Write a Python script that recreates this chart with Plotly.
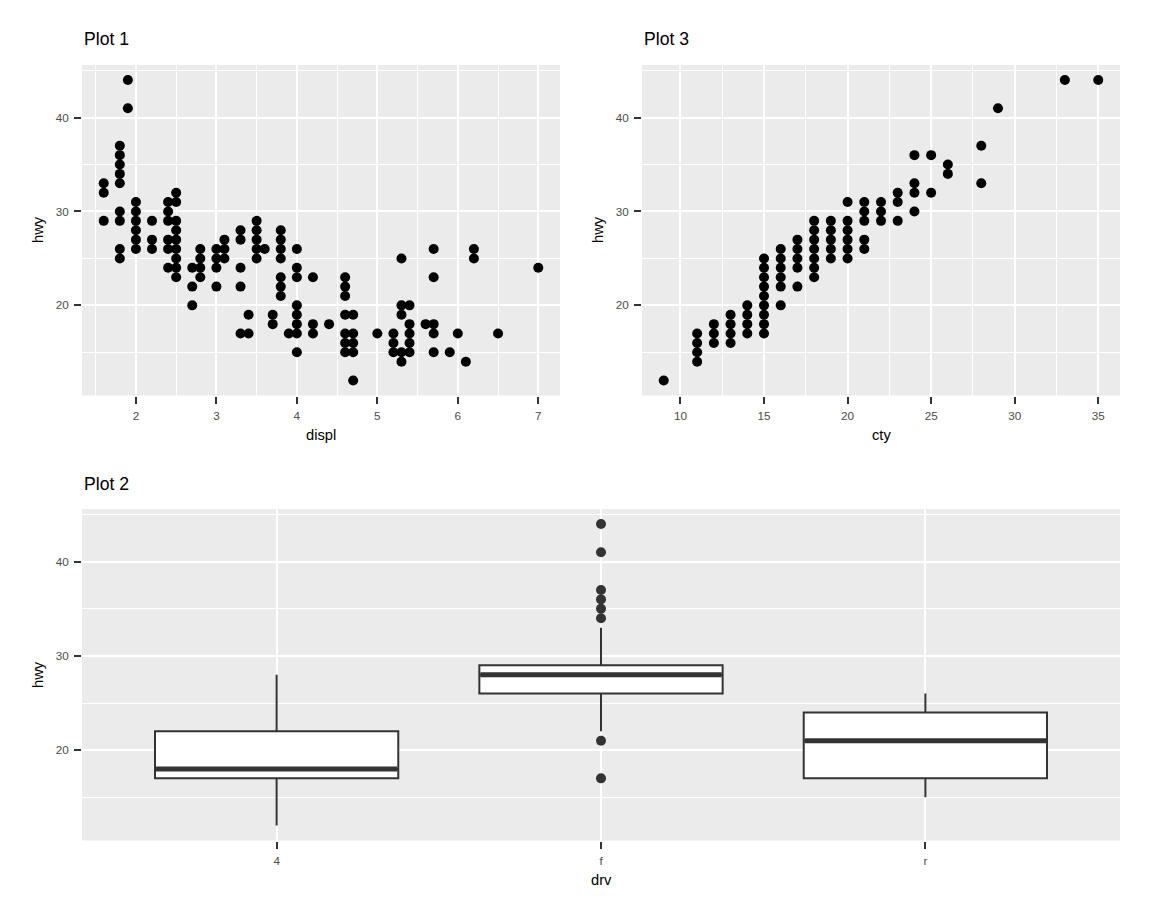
import plotly.graph_objects as go

# ---------------- data (mpg, unique points) ----------------
displ = [1.6, 1.6, 1.6,
         1.8, 1.8, 1.8, 1.8, 1.8, 1.8, 1.8, 1.8, 1.8,
         1.9, 1.9,
         2.0, 2.0, 2.0, 2.0, 2.0, 2.0,
         2.2, 2.2, 2.2,
         2.4, 2.4, 2.4, 2.4, 2.4, 2.4,
         2.5, 2.5, 2.5, 2.5, 2.5, 2.5, 2.5, 2.5, 2.5,
         2.7, 2.7, 2.7,
         2.8, 2.8, 2.8, 2.8,
         3.0, 3.0, 3.0, 3.0,
         3.1, 3.1, 3.1,
         3.3, 3.3, 3.3, 3.3, 3.3,
         3.4, 3.4,
         3.5, 3.5, 3.5, 3.5, 3.5,
         3.6,
         3.7, 3.7,
         3.8, 3.8, 3.8, 3.8, 3.8, 3.8, 3.8,
         3.9,
         4.0, 4.0, 4.0, 4.0, 4.0, 4.0, 4.0, 4.0,
         4.2, 4.2, 4.2,
         4.4,
         4.6, 4.6, 4.6, 4.6, 4.6, 4.6, 4.6,
         4.7, 4.7, 4.7, 4.7, 4.7,
         5.0,
         5.2, 5.2, 5.2,
         5.3, 5.3, 5.3, 5.3, 5.3,
         5.4, 5.4, 5.4, 5.4, 5.4,
         5.6,
         5.7, 5.7, 5.7, 5.7, 5.7,
         5.9, 6.0, 6.1,
         6.2, 6.2,
         6.5, 7.0]
hwy_displ = [33, 32, 29,
             37, 36, 35, 34, 33, 30, 29, 26, 25,
             44, 41,
             31, 30, 29, 28, 27, 26,
             29, 27, 26,
             31, 30, 29, 27, 26, 24,
             32, 31, 29, 28, 27, 26, 25, 24, 23,
             24, 22, 20,
             26, 25, 24, 23,
             26, 25, 24, 22,
             27, 26, 25,
             28, 27, 24, 22, 17,
             19, 17,
             29, 28, 27, 26, 25,
             26,
             19, 18,
             28, 27, 26, 25, 23, 22, 21,
             17,
             26, 24, 23, 20, 19, 18, 17, 15,
             23, 18, 17,
             18,
             23, 22, 21, 19, 17, 16, 15,
             19, 17, 16, 15, 12,
             17,
             17, 16, 15,
             25, 20, 19, 15, 14,
             20, 18, 17, 16, 15,
             18,
             26, 23, 18, 17, 15,
             15, 17, 14,
             26, 25,
             17, 24]

cty = [9,
       11, 11, 11, 11,
       12, 12, 12,
       13, 13, 13, 13,
       14, 14, 14, 14,
       15, 15, 15, 15, 15, 15, 15, 15, 15,
       16, 16, 16, 16, 16, 16,
       17, 17, 17, 17, 17,
       18, 18, 18, 18, 18, 18, 18,
       19, 19, 19, 19, 19,
       20, 20, 20, 20, 20, 20,
       21, 21, 21, 21, 21,
       22, 22, 22,
       23, 23, 23,
       24, 24, 24, 24,
       25, 25,
       26, 26,
       28, 28,
       29, 33, 35]
hwy_cty = [12,
           17, 16, 15, 14,
           18, 17, 16,
           19, 18, 17, 16,
           20, 19, 18, 17,
           25, 24, 23, 22, 21, 20, 19, 18, 17,
           26, 25, 24, 23, 22, 20,
           27, 26, 25, 24, 22,
           29, 28, 27, 26, 25, 24, 23,
           29, 28, 27, 26, 25,
           31, 29, 28, 27, 26, 25,
           31, 30, 29, 27, 26,
           31, 30, 29,
           32, 31, 29,
           36, 33, 32, 30,
           36, 32,
           35, 34,
           37, 33,
           41, 44, 44]

drv = ["4", "f", "r"]
box_q1 = [17, 26, 17]
box_median = [18, 28, 21]
box_q3 = [22, 29, 24]
box_lower = [12, 22, 15]
box_upper = [28, 33, 26]
outlier_drv = ["f", "f", "f", "f", "f", "f", "f", "f"]
outlier_hwy = [44, 41, 37, 36, 35, 34, 21, 17]

# ---------------- styling ----------------
W, H = 1152, 921
FONT = "Liberation Sans, Arial, sans-serif"
PANEL = "#EBEBEB"
DARK = "#333333"
TICKC = "#4D4D4D"


def expand(vals, mult=0.05):
    lo, hi = min(vals), max(vals)
    pad = (hi - lo) * mult
    return [lo - pad, hi + pad]


def px_dom_x(a, b):
    return [a / W, b / W]


def px_dom_y(top, bottom):
    return [1 - bottom / H, 1 - top / H]


def axis_common(standoff):
    return dict(
        showgrid=True, gridcolor="white", gridwidth=2,
        zeroline=False, showline=False,
        ticks="outside", ticklen=7, tickwidth=2, tickcolor=DARK,
        ticklabelstandoff=standoff,
        tickfont=dict(family=FONT, size=11.7, color=TICKC),
    )


fig = go.Figure()

# Plot 1: displ vs hwy
fig.add_trace(go.Scatter(x=displ, y=hwy_displ, mode="markers",
                         marker=dict(color="black", size=10),
                         xaxis="x", yaxis="y", showlegend=False,
                         hoverinfo="x+y"))
# Plot 3: cty vs hwy
fig.add_trace(go.Scatter(x=cty, y=hwy_cty, mode="markers",
                         marker=dict(color="black", size=10),
                         xaxis="x2", yaxis="y2", showlegend=False,
                         hoverinfo="x+y"))

# Plot 2: boxplots of hwy by drv
pos = list(range(len(drv)))
box_w = 0.75
fig.add_trace(go.Box(x=pos, q1=box_q1, median=box_median, q3=box_q3,
                     lowerfence=box_lower, upperfence=box_upper,
                     width=box_w, whiskerwidth=0, boxpoints=False,
                     fillcolor="white", line=dict(color=DARK, width=2),
                     xaxis="x3", yaxis="y3", showlegend=False))
# thicker median lines (ggplot style)
for i, m in zip(pos, box_median):
    fig.add_trace(go.Scatter(x=[i - box_w / 2 + 0.003, i + box_w / 2 - 0.003], y=[m, m],
                             mode="lines", line=dict(color=DARK, width=5),
                             xaxis="x3", yaxis="y3", showlegend=False,
                             hoverinfo="skip"))
fig.add_trace(go.Scatter(x=[drv.index(d) for d in outlier_drv], y=outlier_hwy,
                         mode="markers", marker=dict(color=DARK, size=10),
                         xaxis="x3", yaxis="y3", showlegend=False))

all_hwy = hwy_displ + hwy_cty
yr = expand(all_hwy)

XS, YS = 2, 3

ax1 = axis_common(XS)
ax1.update(domain=px_dom_x(82, 560), range=expand(displ), dtick=1, tick0=0,
           anchor="y",
           minor=dict(dtick=0.5, tick0=0, showgrid=True, gridcolor="white",
                      gridwidth=1, ticks=""))
ay1 = axis_common(YS)
ay1.update(domain=px_dom_y(65, 395.5), range=yr, dtick=10, tick0=0, anchor="x",
           minor=dict(dtick=5, tick0=0, showgrid=True, gridcolor="white",
                      gridwidth=1, ticks=""))

ax2 = axis_common(XS)
ax2.update(domain=px_dom_x(642, 1120), range=expand(cty), dtick=5, tick0=0,
           anchor="y2",
           minor=dict(dtick=2.5, tick0=0, showgrid=True, gridcolor="white",
                      gridwidth=1, ticks=""))
ay2 = axis_common(YS)
ay2.update(domain=px_dom_y(65, 395.5), range=yr, dtick=10, tick0=0, anchor="x2",
           minor=dict(dtick=5, tick0=0, showgrid=True, gridcolor="white",
                      gridwidth=1, ticks=""))

ax3 = axis_common(XS)
ax3.update(domain=px_dom_x(82, 1120), range=[-0.6, len(drv) - 1 + 0.6],
           tickmode="array", tickvals=pos, ticktext=drv, anchor="y3")
ay3 = axis_common(YS)
ay3.update(domain=px_dom_y(509, 840.5), range=yr, dtick=10, tick0=0, anchor="x3",
           minor=dict(dtick=5, tick0=0, showgrid=True, gridcolor="white",
                      gridwidth=1, ticks=""))


def ann(text, x, y, size, rot=0, color="black", xanchor="center"):
    return dict(text=text, x=x / W, y=1 - y / H, xref="paper", yref="paper",
                showarrow=False, textangle=rot, xanchor=xanchor, yanchor="middle",
                font=dict(family=FONT, size=size, color=color))


annotations = [
    ann("Plot 1", 82, 38.5, 17.6, xanchor="left"),
    ann("Plot 3", 642, 38.5, 17.6, xanchor="left"),
    ann("Plot 2", 82, 483.5, 17.6, xanchor="left"),
    ann("displ", 321, 435, 14.7),
    ann("cty", 881, 435, 14.7),
    ann("drv", 601, 880, 14.7),
    ann("hwy", 38, 230, 14.7, rot=-90),
    ann("hwy", 598, 230, 14.7, rot=-90),
    ann("hwy", 38, 675, 14.7, rot=-90),
]

fig.update_layout(
    width=W, height=H,
    margin=dict(l=0, r=0, t=0, b=0),
    paper_bgcolor="white", plot_bgcolor=PANEL,
    xaxis=ax1, yaxis=ay1, xaxis2=ax2, yaxis2=ay2, xaxis3=ax3, yaxis3=ay3,
    annotations=annotations,
    font=dict(family=FONT),
    showlegend=False,
)

fig.write_html("out.html", config={"displayModeBar": False},
               post_script="document.body.style.margin='0';document.body.style.overflow='hidden';")
